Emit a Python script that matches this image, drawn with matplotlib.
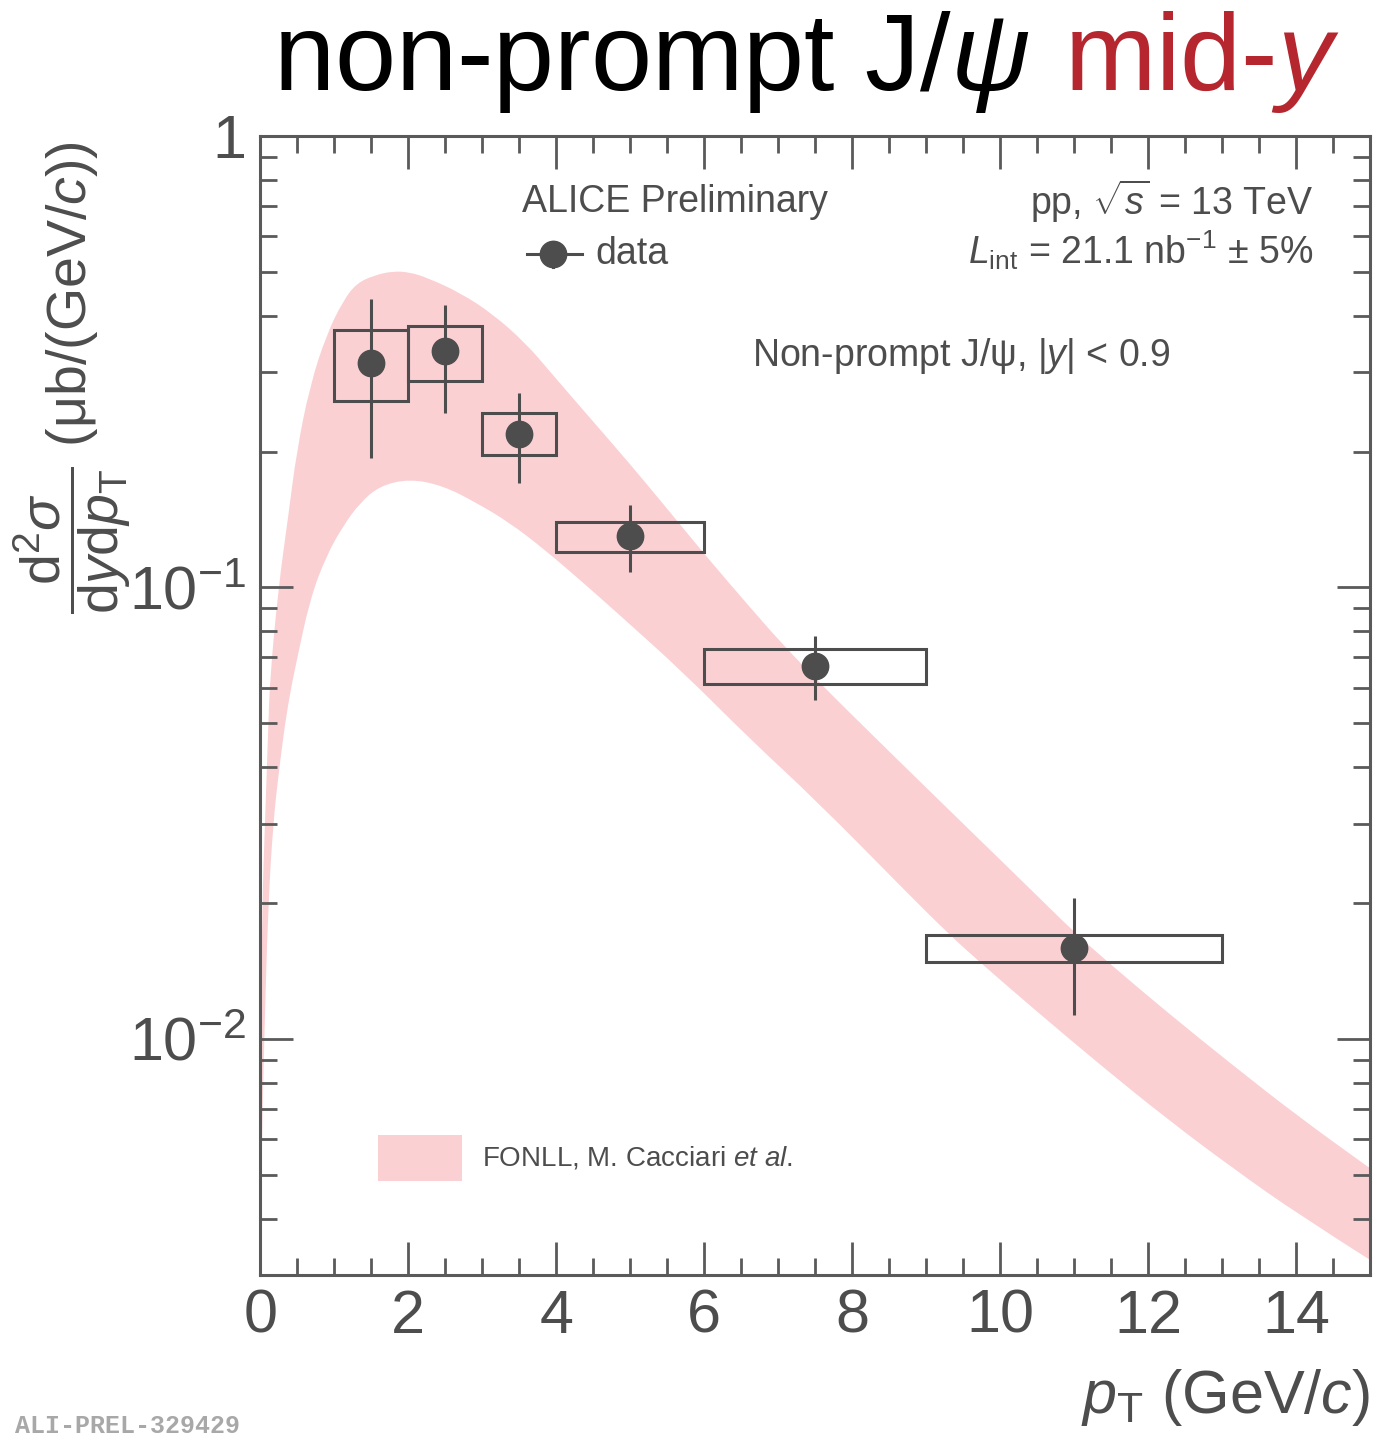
import numpy as np
import matplotlib.pyplot as plt
from matplotlib import font_manager
from matplotlib.path import Path
from matplotlib.patches import Rectangle, PathPatch
from matplotlib.ticker import FixedLocator, FixedFormatter, LogLocator, NullFormatter, MultipleLocator

# ---- non-prompt J/psi cross section, pp 13 TeV, |y| < 0.9 ----
pt_lo = [1.0, 2.0, 3.0, 4.0, 6.0, 9.0]
pt_hi = [2.0, 3.0, 4.0, 6.0, 9.0, 13.0]
pt_c = [1.5, 2.5, 3.5, 5.0, 7.5, 11.0]
xsec = [0.315, 0.334, 0.219, 0.130, 0.0671, 0.0159]
stat_up = [0.435, 0.422, 0.269, 0.152, 0.0780, 0.0205]
stat_dn = [0.194, 0.244, 0.170, 0.108, 0.0562, 0.0113]
syst_up = [0.371, 0.380, 0.243, 0.140, 0.0731, 0.0170]
syst_dn = [0.259, 0.287, 0.197, 0.1197, 0.0612, 0.0148]

# FONLL band edges
fonll_pt_max = [0.0, 0.007, 0.024, 0.061, 0.105, 0.128, 0.24, 0.376, 0.489, 0.669,
                0.895, 1.119, 1.30, 1.547, 1.795, 2.02, 2.246, 2.696, 3.146, 3.597,
                3.912, 4.318, 4.993, 5.534, 6.03, 6.615, 7.065, 7.561, 7.966, 8.642,
                9.543, 10.443, 11.007, 11.435, 12.246, 13.146, 14.047, 15.0]
fonll_max = [0.00362, 0.0100, 0.0200, 0.0301, 0.0489, 0.0627, 0.0992, 0.144, 0.200, 0.280,
             0.364, 0.432, 0.472, 0.492, 0.502, 0.499, 0.486, 0.450, 0.403, 0.346,
             0.301, 0.252, 0.188, 0.147, 0.117, 0.0905, 0.0746, 0.0615, 0.0528, 0.0411,
             0.0295, 0.0212, 0.0172, 0.0149, 0.0115, 0.00874, 0.00670, 0.00517]
fonll_pt_min = [0.0, 0.016, 0.051, 0.105, 0.173, 0.237, 0.331, 0.412, 0.466, 0.669,
                0.895, 1.119, 1.345, 1.615, 2.02, 2.47, 2.922, 3.372, 3.822, 4.318,
                4.814, 5.714, 6.615, 7.516, 8.79, 9.318, 9.723, 10.443, 11.345, 12.246,
                13.146, 14.047, 15.0]
fonll_min = [0.00267, 0.00564, 0.0100, 0.0200, 0.0301, 0.0377, 0.0499, 0.0596, 0.0660, 0.0943,
             0.118, 0.137, 0.154, 0.168, 0.174, 0.168, 0.154, 0.139, 0.122, 0.104,
             0.0881, 0.0649, 0.0462, 0.0337, 0.0207, 0.0170, 0.0148, 0.0117, 0.00878, 0.00667,
             0.00517, 0.00407, 0.00324]

ytick_vals = [1e-2, 1e-1, 1.0]
ytick_text = [r'$10^{-2}$', r'$10^{-1}$', '1']

# ---- fonts ----
installed = {f.name for f in font_manager.fontManager.ttflist}
sans = 'Liberation Sans Narrow' if 'Liberation Sans Narrow' in installed else 'Liberation Sans'
plt.rcParams['font.family'] = [sans, 'DejaVu Sans']
plt.rcParams['mathtext.fontset'] = 'custom'
plt.rcParams['mathtext.rm'] = sans
plt.rcParams['mathtext.it'] = sans + ':italic'
plt.rcParams['mathtext.bf'] = sans + ':bold'
plt.rcParams['mathtext.sf'] = sans

grey = '#4d4d4d'
frame = '#5a5a5a'
pink = '#fad0d3'


def smooth_edge(xs, ys):
    """Quadratic-bezier path through a set of edge points (log y)."""
    xs = np.asarray(xs, float)
    ly = np.log10(ys)
    verts = [(xs[0], ys[0])]
    codes = [Path.LINETO]
    for i in range(1, len(xs) - 1):
        mid = (0.5 * (xs[i] + xs[i + 1]), 10 ** (0.5 * (ly[i] + ly[i + 1])))
        verts += [(xs[i], ys[i]), mid]
        codes += [Path.CURVE3, Path.CURVE3]
    verts.append((xs[-1], ys[-1]))
    codes.append(Path.LINETO)
    return verts, codes


fig = plt.figure(figsize=(13.84, 14.41), dpi=100)
ax = fig.add_axes([0.1882, 0.1152, 0.8017, 0.7904])

ax.set_yscale('log')
ax.set_xlim(0, 15)
ax.set_ylim(0.003, 1)

# FONLL band: upper edge left->right, lower edge right->left
v_up, c_up = smooth_edge(fonll_pt_max, fonll_max)
v_lo, c_lo = smooth_edge(fonll_pt_min[::-1], fonll_min[::-1])
c_up[0] = Path.MOVETO
verts = v_up + v_lo + [v_up[0]]
codes = c_up + c_lo + [Path.CLOSEPOLY]
ax.add_patch(PathPatch(Path(verts, codes), facecolor=pink, edgecolor='none',
                       transform=ax.transData, zorder=1))

# systematic boxes
for lo, hi, dn, up in zip(pt_lo, pt_hi, syst_dn, syst_up):
    ax.add_patch(Rectangle((lo, dn), hi - lo, up - dn, fill=False,
                           edgecolor=grey, lw=2.2, zorder=3))

# stat error bars and points
yerr = [np.array(xsec) - np.array(stat_dn), np.array(stat_up) - np.array(xsec)]
ax.errorbar(pt_c, xsec, yerr=yerr, fmt='o', color=grey, ms=19, elinewidth=2.2,
            capsize=0, zorder=4)

# axes styling (ticks inside, all four sides)
for s in ax.spines.values():
    s.set_color(frame)
    s.set_linewidth(2.2)
ax.xaxis.set_major_locator(MultipleLocator(2))
ax.xaxis.set_minor_locator(MultipleLocator(0.5))
ax.yaxis.set_major_locator(FixedLocator(ytick_vals))
ax.yaxis.set_major_formatter(FixedFormatter(ytick_text))
ax.yaxis.set_minor_locator(LogLocator(base=10, subs=np.arange(2, 10)))
ax.yaxis.set_minor_formatter(NullFormatter())
ax.tick_params(which='both', direction='in', top=True, right=True, color=frame,
               labelcolor=grey, labelsize=44)
ax.tick_params(which='major', length=24, width=2.0, pad=10)
ax.tick_params(which='minor', length=12, width=2.0)

# axis titles
ax.text(1.0, -0.121, r'$p_{\mathrm{T}}$ (GeV/$c$)', transform=ax.transAxes,
        ha='right', va='baseline', fontsize=44, color=grey)
fig.text(0.052, 0.7377,
         r'$\dfrac{\mathrm{d}^{2}\sigma}{\mathrm{d}y\mathrm{d}p_{\mathrm{T}}}$ (μb/(GeV/$c$))',
         rotation=90, ha='center', va='center', fontsize=40, color=grey)

# annotations
ax.text(0.2357, 0.9425, 'ALICE Preliminary', transform=ax.transAxes,
        ha='left', va='center', fontsize=27, color=grey)
ax.text(0.9486, 0.9425, r'pp, $\sqrt{s}$ = 13 TeV', transform=ax.transAxes,
        ha='right', va='center', fontsize=27, color=grey)
ax.text(0.9486, 0.8995, r'$L_{\mathrm{int}}$ = 21.1 nb$^{-1}$ $\pm$ 5%', transform=ax.transAxes,
        ha='right', va='center', fontsize=27, color=grey)
ax.text(0.4429, 0.807, r'Non-prompt J/ψ, |$y$| < 0.9', transform=ax.transAxes,
        ha='left', va='center', fontsize=27, color=grey)

# legend entries
ax.plot([0.240, 0.290], [0.896, 0.896], color=grey, lw=2.2, transform=ax.transAxes, zorder=5)
ax.plot([0.2636, 0.2636], [0.885, 0.907], color=grey, lw=2.2, transform=ax.transAxes, zorder=5)
ax.plot([0.2636], [0.896], 'o', color=grey, ms=19, transform=ax.transAxes, zorder=6)
ax.text(0.3015, 0.896, 'data', transform=ax.transAxes,
        ha='left', va='center', fontsize=27, color=grey)
ax.add_patch(Rectangle((0.1059, 0.0826), 0.0757, 0.0404, transform=ax.transAxes,
                       color=pink, lw=0))
ax.text(0.1996, 0.1028, r'FONLL, M. Cacciari $et\ al.$', transform=ax.transAxes,
        ha='left', va='center', fontsize=20, color=grey)

# heading
fig.text(273 / 1384, 1 - 90 / 1441, r'non-prompt J/$\psi$', fontsize=79,
         family=['Liberation Sans', 'DejaVu Sans'], color='black', ha='left', va='baseline')
fig.text(1340 / 1384, 1 - 90 / 1441, r'mid-$y$', fontsize=79,
         family=['Liberation Sans', 'DejaVu Sans'], color='#b5262f', ha='right', va='baseline')

fig.text(15 / 1384, 1 - 1426 / 1441, 'ALI-PREL-329429', fontsize=18,
         family=['Liberation Mono', 'DejaVu Sans Mono'], weight='bold',
         color='#a8a8a8', ha='left', va='center')

fig.savefig('out.png', dpi=100)
